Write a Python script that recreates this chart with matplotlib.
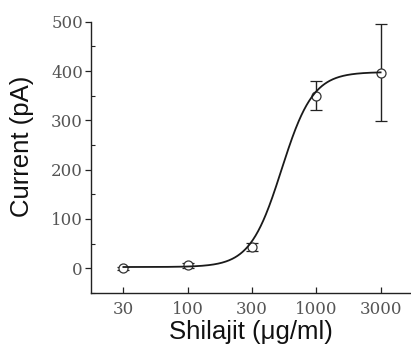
import numpy as np
import matplotlib
matplotlib.use("Agg")
import matplotlib.pyplot as plt
from matplotlib.ticker import MultipleLocator

# Data
conc_labels = ["30", "100", "300", "1000", "3000"]
current = [0, 6, 43, 350, 397]
current_err = [3, 5, 9, 30, 99]

# Logistic fit parameters (in category-index space)
fit_bottom = 2.5
fit_top = 398.0
fit_center = 2.46
fit_width = 0.245

xs = np.arange(len(conc_labels))

fig = plt.figure(figsize=(4.11, 3.45), dpi=100)
ax = fig.add_axes([0.222, 0.151, 0.776, 0.786])

ax.errorbar(xs, current, yerr=current_err, fmt='o', color='#222222',
            mfc='white', mec='#333333', ms=6.5, mew=0.9, elinewidth=1.0,
            capsize=4, capthick=1.0, zorder=3)

xf = np.linspace(xs[0], xs[-1], 400)
yf = fit_bottom + (fit_top - fit_bottom) / (1 + np.exp((fit_center - xf) / fit_width))
ax.plot(xf, yf, color='#1a1a1a', lw=1.3, zorder=4)

ax.set_xlim(-0.5, 4.46)
ax.set_ylim(-50, 500)
ax.set_xticks(xs)
ax.set_xticklabels(conc_labels)
ax.yaxis.set_major_locator(MultipleLocator(100))
ax.yaxis.set_minor_locator(MultipleLocator(50))

for s in ['top', 'right']:
    ax.spines[s].set_visible(False)
for s in ['left', 'bottom']:
    ax.spines[s].set_linewidth(1.0)
    ax.spines[s].set_color('#222222')

ax.tick_params(axis='x', which='major', direction='in', length=4, width=0.9,
               pad=6, colors='#222222', labelcolor='#555555')
ax.tick_params(axis='y', which='major', direction='out', length=4, width=0.9,
               pad=2, colors='#222222', labelcolor='#555555')
ax.tick_params(axis='y', which='minor', direction='in', length=3, width=0.8,
               colors='#222222')
for lab in ax.get_xticklabels() + ax.get_yticklabels():
    lab.set_fontfamily('DejaVu Serif')
    lab.set_fontsize(12)

ax.set_xlabel('Shilajit (\u03bcg/ml)', fontsize=18.5, family='Liberation Sans',
              color='#111111', labelpad=1)
ax.set_ylabel('Current (pA)', fontsize=18.5, family='Liberation Sans',
              color='#111111')
ax.yaxis.set_label_coords(-0.18, 0.54)

fig.savefig('out.png', dpi=100)
